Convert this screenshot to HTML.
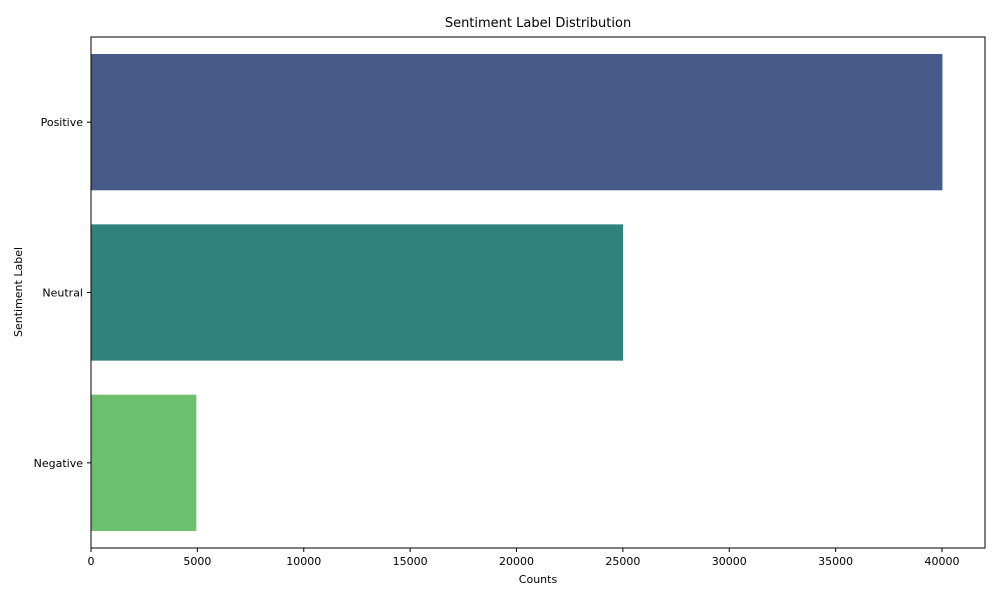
<!DOCTYPE html>
<html><head><meta charset="utf-8"><style>
body{margin:0;background:#fff;}
svg text{font-family:"DejaVu Sans","Liberation Sans",sans-serif;fill:#000;}
</style></head><body>
<svg id="chart" width="1000" height="600" xmlns="http://www.w3.org/2000/svg">
<rect width="1000" height="600" fill="#fff"/>
<text x="538" y="27" font-size="13" text-anchor="middle">Sentiment Label Distribution</text>
<g id="bars"></g><g id="xticks"></g><g id="yticks"></g>
<rect x="91" y="37" width="894" height="511" fill="none" stroke="#000" stroke-width="1"/>
<text x="538" y="583" font-size="11" text-anchor="middle">Counts</text>
<text transform="translate(22,292) rotate(-90)" font-size="11" text-anchor="middle">Sentiment Label</text>
</svg>
<script>
const categories=["Positive","Neutral","Negative"];
const counts=[40020,25010,4950];
const colors=["#455a87","#2e847d","#6cbf6c"];
const xTicks=[0,5000,10000,15000,20000,25000,30000,35000,40000];
const NS="http://www.w3.org/2000/svg";
const L=91,R=985,T=37,B=548;
const xMax=Math.max(...counts)*1.05;
const x=v=>L+(v/xMax)*(R-L);
const band=(B-T)/categories.length;
const yc=i=>T+band*(i+0.5);
function mk(t,a,p){const e=document.createElementNS(NS,t);for(const k in a)e.setAttribute(k,a[k]);p.appendChild(e);return e;}
const gb=document.getElementById('bars'),gx=document.getElementById('xticks'),gy=document.getElementById('yticks');
categories.forEach((c,i)=>{
 const r=mk('rect',{x:L,y:yc(i)-band*0.4,width:x(counts[i])-L,height:band*0.8,fill:colors[i]},gb);
 
 
 mk('line',{x1:L-4,x2:L,y1:yc(i),y2:yc(i),stroke:'#000'},gy);
 const t=mk('text',{x:L-8,y:yc(i)+4,'font-size':11,'text-anchor':'end'},gy);
 t.textContent=c;
 
 
});
xTicks.forEach(v=>{
 mk('line',{x1:x(v),x2:x(v),y1:B,y2:B+4,stroke:'#000'},gx);
 const t=mk('text',{x:x(v),y:B+17,'font-size':11,'text-anchor':'middle'},gx);
 t.textContent=v;
 
 
});
</script>
</body></html>
